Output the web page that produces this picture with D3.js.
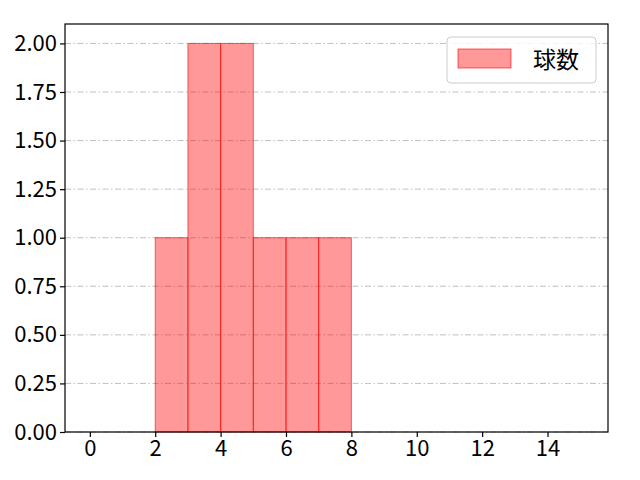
<!DOCTYPE html>
<meta charset="utf-8">
<script src="https://d3js.org/d3.v7.min.js"></script>
<style>
  body { margin: 0; background: #fff; }
  text { font-family: "Noto Sans CJK JP", sans-serif; }
</style>
<div id="chart"></div>
<script>
// histogram bins and counts
const binStarts = [2, 3, 4, 5, 6, 7];
const binWidth = 1;
const counts = [1, 2, 2, 1, 1, 1];
const xTicks = [0, 2, 4, 6, 8, 10, 12, 14];
const yTicks = [0, 0.25, 0.5, 0.75, 1.0, 1.25, 1.5, 1.75, 2.0];
const seriesName = "球数";

const margin = {top: 24, right: 32, bottom: 48, left: 65},
    width = 640 - margin.left - margin.right,
    height = 480 - margin.top - margin.bottom;

const svg = d3.select("#chart")
  .append("svg")
    .attr("width", 640)
    .attr("height", 480)
  .append("g")
    .attr("transform", `translate(${margin.left},${margin.top})`);

const x = d3.scaleLinear().domain([-0.76, 15.85]).range([0, width]);
const y = d3.scaleLinear().domain([0, 2.1]).range([height, 0]);

// horizontal grid
svg.append("g")
  .selectAll("line")
  .data(yTicks)
  .join("line")
    .attr("x1", 0).attr("x2", width)
    .attr("y1", d => y(d)).attr("y2", d => y(d))
    .attr("stroke", "#b0b0b0")
    .attr("stroke-width", 0.8)
    .attr("stroke-dasharray", "6,2.5,1.5,2.5");

// bars
svg.append("g")
  .selectAll("rect")
  .data(binStarts)
  .join("rect")
    .attr("x", d => x(d))
    .attr("y", (d, i) => y(counts[i]))
    .attr("width", d => x(d + binWidth) - x(d))
    .attr("height", (d, i) => y(0) - y(counts[i]))
    .attr("fill", "rgba(255,0,0,0.4)")
    .attr("stroke", "rgba(255,0,0,0.6)")
    .attr("stroke-width", 1);

// axes
const xAxis = svg.append("g")
  .attr("transform", `translate(0,${height})`)
  .call(d3.axisBottom(x).tickValues(xTicks).tickSize(5).tickPadding(3));
const yAxis = svg.append("g")
  .call(d3.axisLeft(y).tickValues(yTicks).tickFormat(d3.format(".2f")).tickSize(5).tickPadding(3));

[xAxis, yAxis].forEach(a => {
  a.selectAll("text").attr("font-size", 22).attr("fill", "#000").style("font-family", "Noto Sans CJK JP, sans-serif");
  a.selectAll("line").attr("stroke", "#000").attr("stroke-width", 1.2);
  a.select(".domain").remove();
});

// frame
svg.append("rect")
  .attr("width", width).attr("height", height)
  .attr("fill", "none").attr("stroke", "#000").attr("stroke-width", 1.2);

// legend
const lg = svg.append("g").attr("transform", `translate(${width - 161},${13})`);
lg.append("rect")
  .attr("width", 149).attr("height", 46).attr("rx", 4)
  .attr("fill", "#fff").attr("fill-opacity", 0.8)
  .attr("stroke", "#ccc");
lg.append("rect")
  .attr("x", 11).attr("y", 12).attr("width", 53).attr("height", 19)
  .attr("fill", "rgba(255,0,0,0.4)").attr("stroke", "rgba(255,0,0,0.6)");
lg.append("text")
  .attr("x", 86).attr("y", 31)
  .attr("font-size", 23)
  .text(seriesName);
</script>
